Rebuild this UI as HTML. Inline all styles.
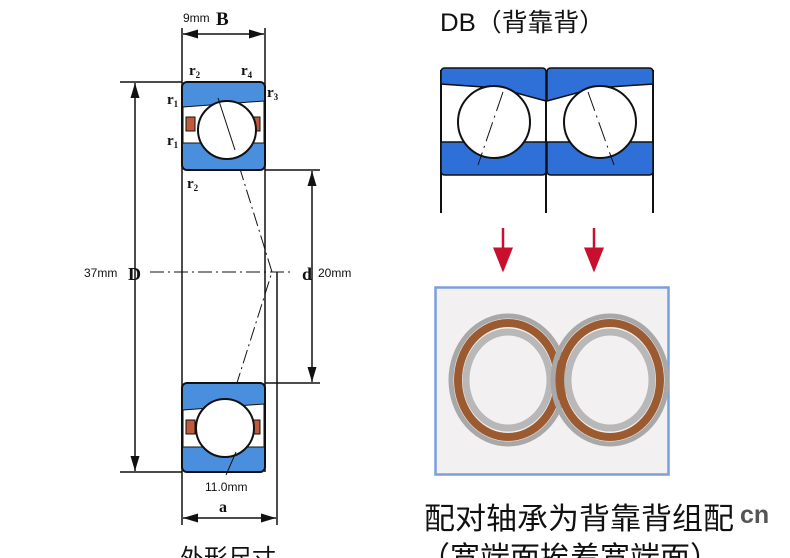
<!DOCTYPE html>
<html><head><meta charset="utf-8"><style>
body{margin:0;background:#fff;width:790px;height:558px;overflow:hidden;}
svg{display:block}
</style></head><body>
<svg width="790" height="558" viewBox="0 0 790 558" xmlns="http://www.w3.org/2000/svg" font-family="Liberation Sans, Noto Sans CJK SC, sans-serif">
<defs>
<marker id="ar" markerWidth="10" markerHeight="6" refX="10" refY="3" orient="auto-start-reverse"><path d="M0,0 L10,3 L0,6z" fill="#111"/></marker>
<marker id="rr" markerWidth="10" markerHeight="8" refX="9" refY="4" orient="auto"><path d="M0,0 L10,4 L0,8z" fill="#c8102e"/></marker>
</defs>
<g stroke="#111" stroke-width="1.5" fill="none">
<line x1="182" y1="28" x2="182" y2="525"/>
<line x1="265" y1="28" x2="265" y2="472"/>
<line x1="277" y1="272" x2="277" y2="525"/>
<line x1="183" y1="34" x2="264" y2="34" marker-start="url(#ar)" marker-end="url(#ar)"/>
<line x1="183" y1="518" x2="276" y2="518" marker-start="url(#ar)" marker-end="url(#ar)"/>
<line x1="120" y1="82" x2="182" y2="82"/>
<line x1="120" y1="472" x2="182" y2="472"/>
<line x1="135" y1="83" x2="135" y2="471" marker-start="url(#ar)" marker-end="url(#ar)"/>
<line x1="265" y1="170" x2="320" y2="170"/>
<line x1="265" y1="383" x2="320" y2="383"/>
<line x1="312" y1="171" x2="312" y2="382" marker-start="url(#ar)" marker-end="url(#ar)"/>
<line x1="150" y1="272" x2="292" y2="272" stroke-width="1" stroke-dasharray="14,4,2,4"/>
<path d="M218,98 L272,272 L212,462" stroke-width="1" stroke-dasharray="14,4,2,4"/>
</g>
<g>
<rect x="182" y="82" width="83" height="88" rx="5" fill="#4a8ede" stroke="#111" stroke-width="2"/>
<path d="M183,107 L264,101 L264,143 L183,143z" fill="#fff" stroke="#111" stroke-width="1"/>
<rect x="186" y="117" width="9" height="14" fill="#c05a3a" stroke="#111"/>
<rect x="251" y="117" width="9" height="14" fill="#c05a3a" stroke="#111"/>
<circle cx="227" cy="130" r="29" fill="#fff" stroke="#111" stroke-width="2"/>
</g>
<g>
<rect x="182" y="383" width="83" height="89" rx="5" fill="#4a8ede" stroke="#111" stroke-width="2"/>
<path d="M183,410 L264,404 L264,447 L183,447z" fill="#fff" stroke="#111" stroke-width="1"/>
<rect x="186" y="420" width="9" height="14" fill="#c05a3a" stroke="#111"/>
<rect x="251" y="420" width="9" height="14" fill="#c05a3a" stroke="#111"/>
<circle cx="225" cy="428" r="29" fill="#fff" stroke="#111" stroke-width="2"/>
</g>
<path d="M218,98 L235,150 M236,452 L226,475" stroke="#111" stroke-width="1"/>
<g font-family="Liberation Serif, serif" font-weight="bold" fill="#111">
<text x="216" y="25" font-size="19">B</text>
<text x="128" y="280" font-size="18">D</text>
<text x="302" y="280" font-size="18">d</text>
<text x="219" y="512" font-size="16">a</text>
<text x="189" y="75" font-size="15">r<tspan font-size="9" dy="3">2</tspan></text>
<text x="241" y="75" font-size="15">r<tspan font-size="9" dy="3">4</tspan></text>
<text x="267" y="97" font-size="15">r<tspan font-size="9" dy="3">3</tspan></text>
<text x="167" y="104" font-size="15">r<tspan font-size="9" dy="3">1</tspan></text>
<text x="167" y="145" font-size="15">r<tspan font-size="9" dy="3">1</tspan></text>
<text x="187" y="188" font-size="15">r<tspan font-size="9" dy="3">2</tspan></text>
</g>
<g font-size="12" fill="#111">
<text x="183" y="22">9mm</text>
<text x="84" y="277">37mm</text>
<text x="318" y="277">20mm</text>
<text x="205" y="491">11.0mm</text>
</g>
<text x="180" y="566" font-size="24" fill="#111">外形尺寸</text>
<text x="440" y="31" font-size="25" fill="#111" textLength="165" lengthAdjust="spacingAndGlyphs">DB（背靠背）</text>
<g stroke="#111" stroke-width="2" fill="none">
<line x1="441" y1="70" x2="441" y2="213"/>
<line x1="546" y1="70" x2="546" y2="213"/>
<line x1="653" y1="70" x2="653" y2="213"/>
</g>
<g stroke="#111" stroke-width="1.5">
<path d="M441,72 Q441,68 445,68 L542,68 Q546,68 546,72 L546,101 L498,88 L441,84z" fill="#2f6fd8"/>
<path d="M547,72 Q547,68 551,68 L649,68 Q653,68 653,72 L653,84 L595,88 L547,101z" fill="#2f6fd8"/>
<path d="M441,142 L546,142 L546,171 Q546,175 542,175 L445,175 Q441,175 441,171z" fill="#2f6fd8"/>
<path d="M547,142 L653,142 L653,171 Q653,175 649,175 L551,175 Q547,175 547,171z" fill="#2f6fd8"/>
<circle cx="494" cy="122" r="36" fill="#fff" stroke-width="2"/>
<circle cx="600" cy="122" r="36" fill="#fff" stroke-width="2"/>
<path d="M503,92 L478,165 M588,92 L614,165" stroke-width="1" stroke-dasharray="20,5,2,5"/>
</g>
<g stroke="#c8102e" stroke-width="2.5">
<line x1="503" y1="228" x2="503" y2="270" marker-end="url(#rr)"/>
<line x1="594" y1="228" x2="594" y2="270" marker-end="url(#rr)"/>
</g>
<rect x="435.5" y="287.5" width="233" height="187" fill="#f2f0f0" stroke="#7c9fdc" stroke-width="2.5"/>
<g fill="none">
<ellipse cx="508" cy="380" rx="57" ry="64" stroke="#a8a8a8" stroke-width="5"/>
<ellipse cx="508" cy="380" rx="50" ry="57" stroke="#9c5a30" stroke-width="8"/>
<ellipse cx="508" cy="380" rx="42" ry="48" stroke="#b8b8b8" stroke-width="7"/>
<ellipse cx="610" cy="380" rx="57" ry="64" stroke="#a8a8a8" stroke-width="5"/>
<ellipse cx="610" cy="380" rx="50" ry="57" stroke="#9c5a30" stroke-width="8"/>
<ellipse cx="610" cy="380" rx="42" ry="48" stroke="#b8b8b8" stroke-width="7"/>
</g>
<text x="424" y="529" font-size="30" fill="#111" textLength="310" lengthAdjust="spacingAndGlyphs">配对轴承为背靠背组配</text>
<text x="740" y="523" font-size="25" font-weight="bold" fill="#555">cn</text>
<text x="420" y="568" font-size="30" fill="#111" textLength="300" lengthAdjust="spacingAndGlyphs">（宽端面挨着宽端面）</text>
</svg>
</body></html>
